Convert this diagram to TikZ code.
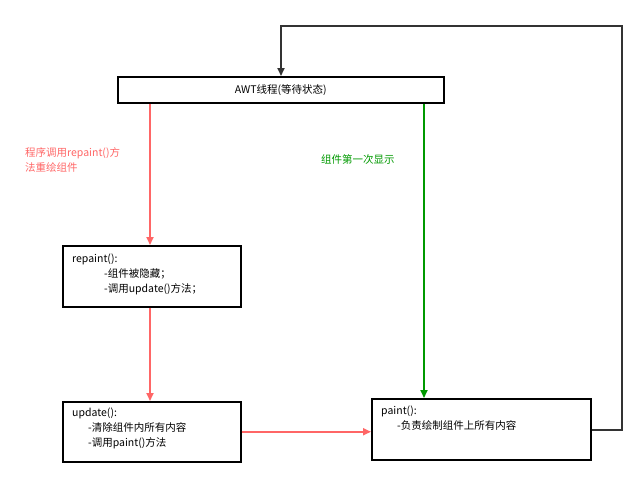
\documentclass[tikz,border=0pt]{standalone}
\usepackage{fontspec}
\setmainfont{Noto Sans CJK SC}
\usetikzlibrary{arrows.meta}
\definecolor{redline}{HTML}{FF6666}
\definecolor{greenline}{HTML}{009900}
\definecolor{darkline}{HTML}{333333}
\tikzset{box/.style={draw=black,line width=1.5pt,fill=white,anchor=north west,inner sep=0pt,font=\fontsize{10.5}{15}\selectfont},
textbox/.style={anchor=north west,align=left,inner sep=0pt,font=\fontsize{10.5}{15}\selectfont},
redarrow/.style={draw=redline,line width=1.7pt,-{Triangle[length=8pt,width=7pt]}},
greenarrow/.style={draw=greenline,line width=1.7pt,-{Triangle[length=8pt,width=7pt]}},
darkarrow/.style={draw=darkline,line width=1.7pt,-{Triangle[length=8pt,width=7pt]}}}
\begin{document}
\begin{tikzpicture}[x=1pt,y=-1pt]
\useasboundingbox (0,0) rectangle (644,485);

%% boxes
\node [box,minimum width=326pt,minimum height=26pt] (awt) at (117,76) {};
\node [box,minimum width=178pt,minimum height=61pt] (repaint) at (62,245) {};
\node [box,minimum width=178pt,minimum height=60pt] (update) at (62,401) {};
\node [box,minimum width=219pt,minimum height=61pt] (paint) at (371,398) {};

%% box texts
\node [font=\fontsize{10.5}{15}\selectfont] at (awt.center) {AWT线程(等待状态)};
\node [textbox] at (72,254) {repaint():\\\hspace*{32pt}-组件被隐藏；\\\hspace*{32pt}-调用update()方法；};
\node [textbox] at (72,408) {update():\\\hspace*{16pt}-清除组件内所有内容\\\hspace*{16pt}-调用paint()方法};
\node [textbox] at (381,406) {paint():\\\hspace*{16pt}-负责绘制组件上所有内容};

%% helper coordinates
\coordinate (r1) at (622,430);
\coordinate (r2) at (622,26);
\coordinate (r3) at (281,26);

%% connectors
\draw [redarrow] (awt.south -| 150,0) -- (repaint.north -| 150,0);
\draw [redarrow] (repaint.south -| 150,0) -- (update.north -| 150,0);
\draw [redarrow] (update.east) -- (paint.west |- update.east);
\draw [greenarrow] (awt.south -| 424,0) -- (paint.north -| 424,0);
\draw [darkarrow] (paint.east |- r1) -- (r1) -- (r2) -- (r3) -- (awt.north -| r3);

%% labels
\node [textbox,text=redline] at (25,147) {程序调用repaint()方\\法重绘组件};
\node [textbox,text=greenline] at (321,154) {组件第一次显示};

\end{tikzpicture}
\end{document}
